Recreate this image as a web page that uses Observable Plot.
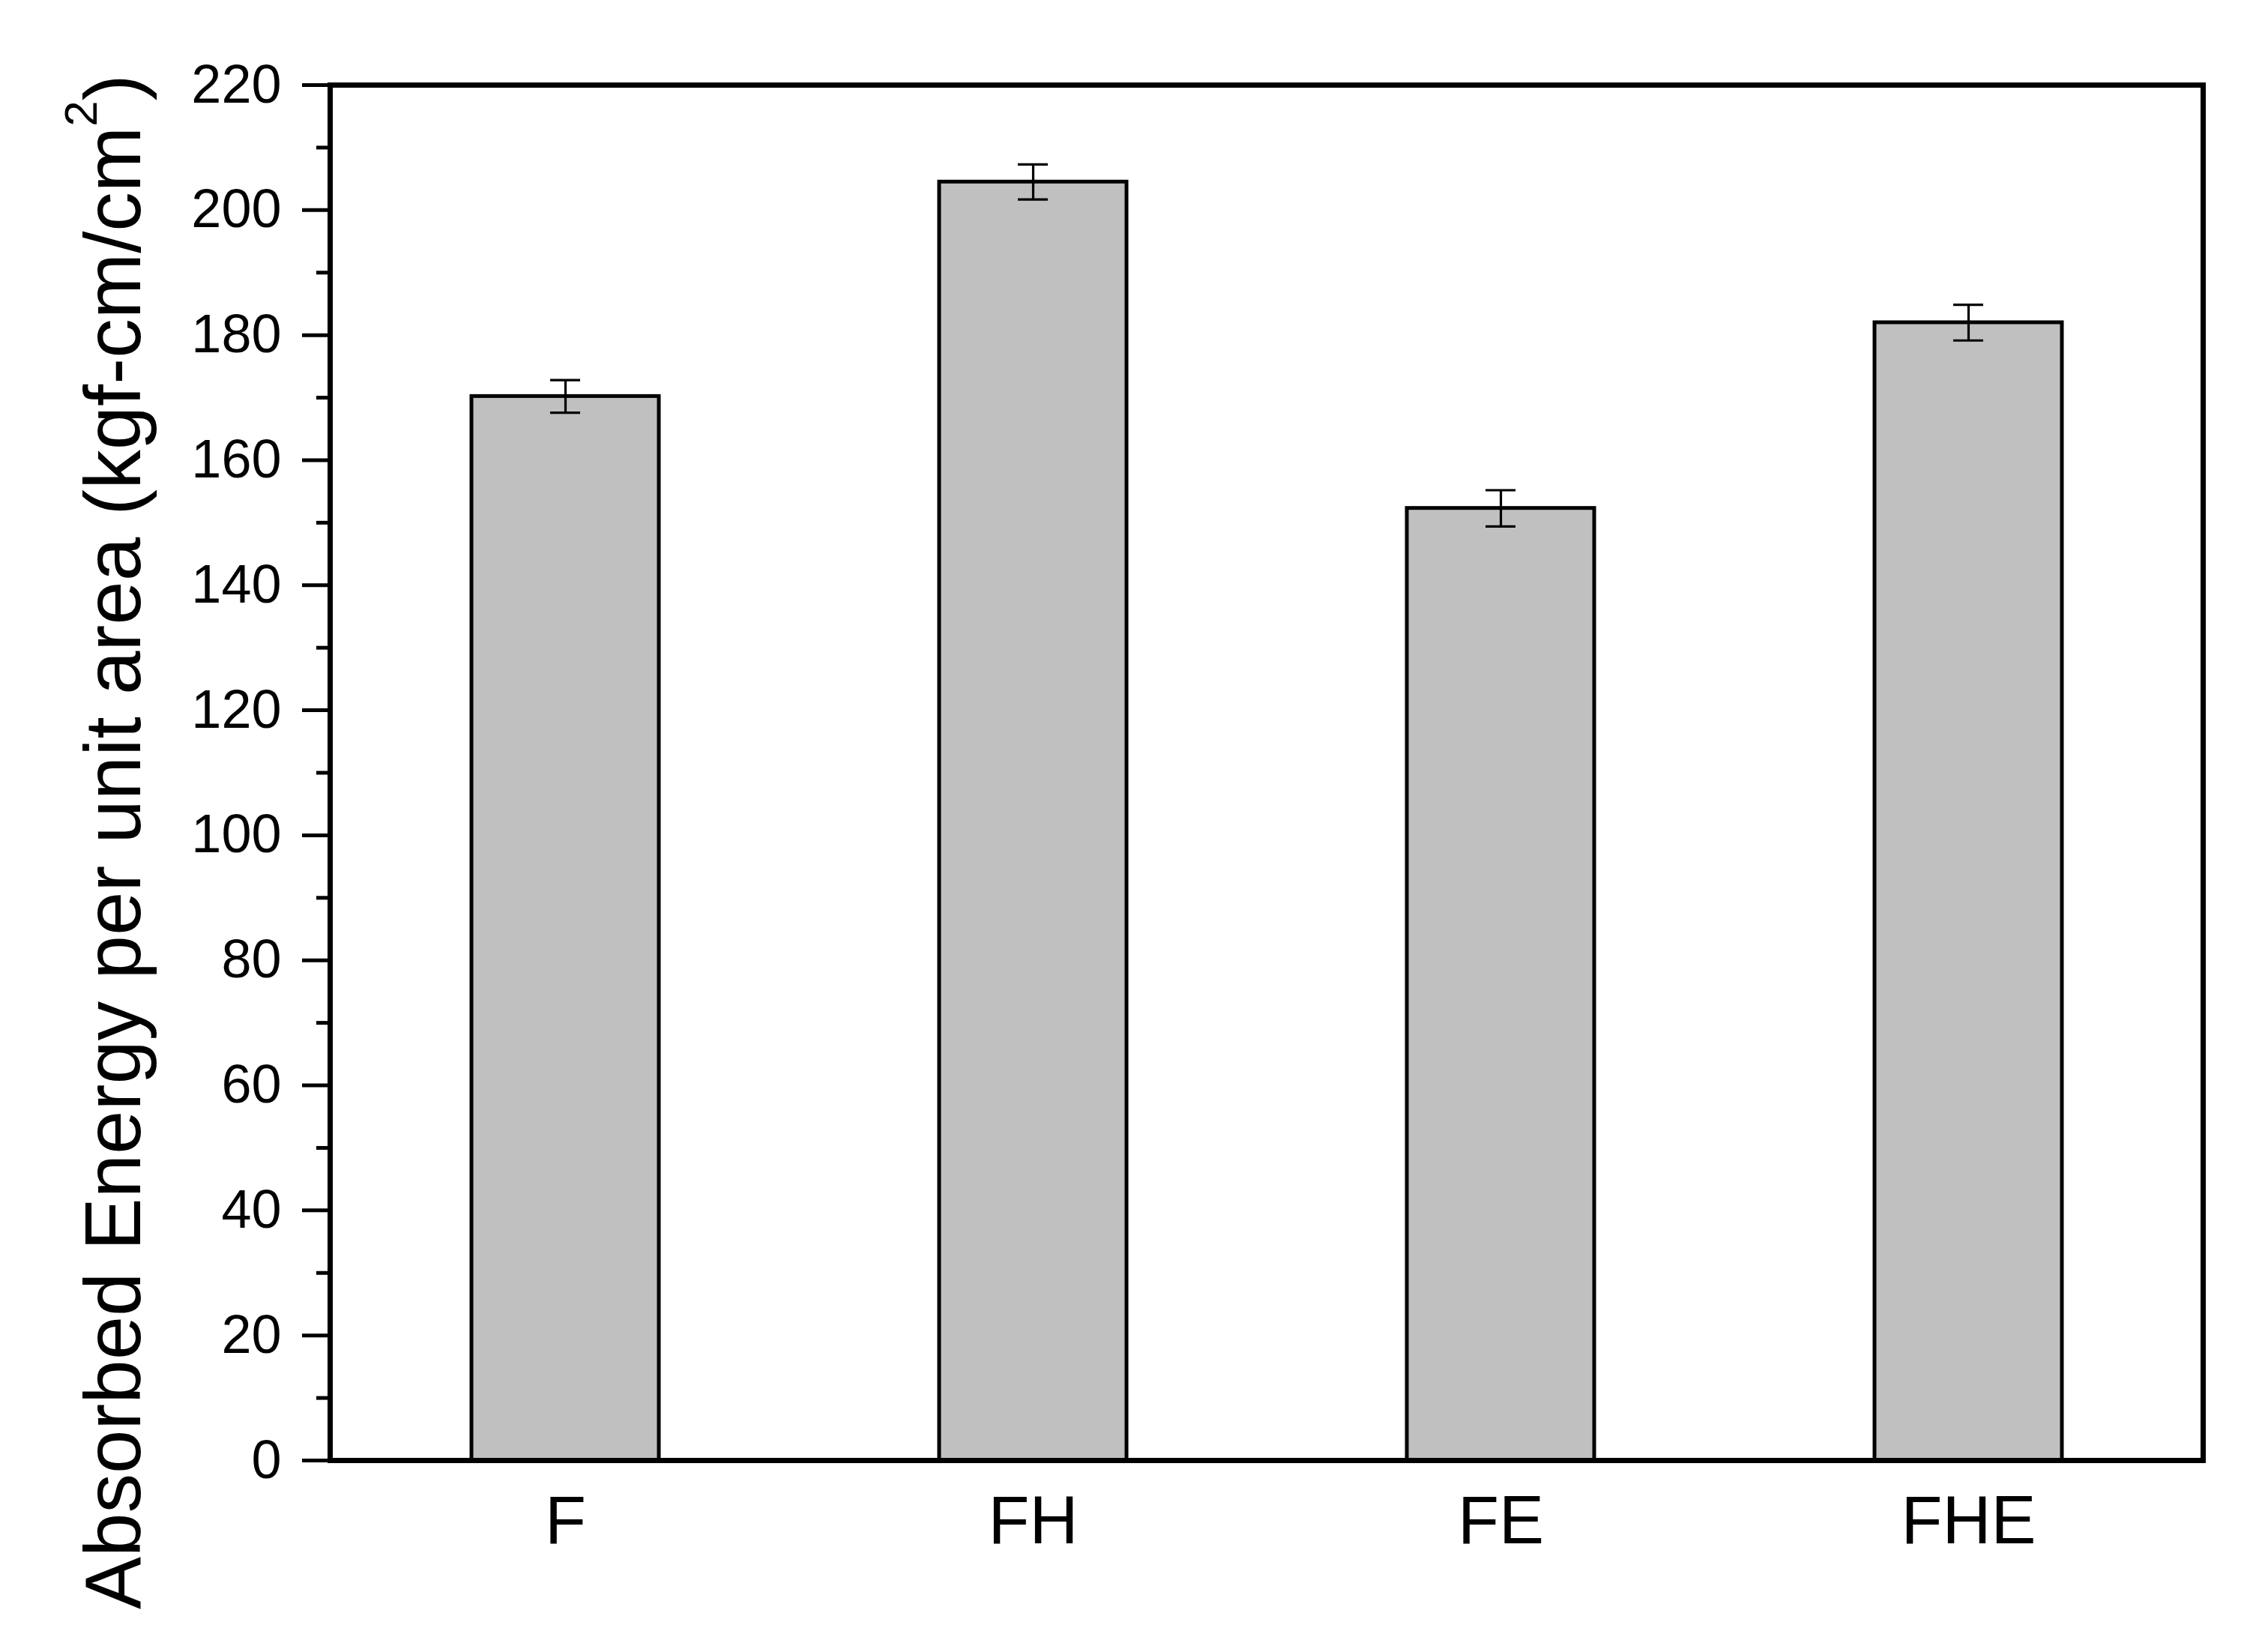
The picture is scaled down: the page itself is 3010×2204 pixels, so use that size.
<!DOCTYPE html>
<html>
<head>
<meta charset="utf-8">
<script src="https://cdn.jsdelivr.net/npm/d3@7"></script>
<script src="https://cdn.jsdelivr.net/npm/@observablehq/plot@0.6"></script>
<style>
  html, body { margin: 0; padding: 0; background: #fff; }
  #chart svg { display: block; }
</style>
</head>
<body>
<div id="chart"></div>
<script>
// Data
const categories = ["F", "FH", "FE", "FHE"];
const energy = [170.2, 204.5, 152.3, 182.0];
const errors = [2.6, 2.8, 2.9, 2.85];
const majorTicks = [0, 20, 40, 60, 80, 100, 120, 140, 160, 180, 200, 220];
const minorTicks = [10, 30, 50, 70, 90, 110, 130, 150, 170, 190, 210];
const yLabelMain = "Absorbed Energy per unit area (kgf-cm/cm";
const yLabelSup = "2";
const yLabelEnd = ")";

const data = categories.map((c, i) => ({
  cat: c, value: energy[i], lo: energy[i] - errors[i], hi: energy[i] + errors[i]
}));

const font = "'Liberation Sans', Arial, Helvetica, sans-serif";

const chart = Plot.plot({
  width: 3010,
  height: 2204,
  marginLeft: 440,
  marginRight: 71,
  marginTop: 113,
  marginBottom: 256,
  style: { fontFamily: font, background: "#fff", color: "#000" },
  x: { type: "band", domain: categories, paddingInner: 0.6, paddingOuter: 0.3 },
  y: { domain: [0, 220] },
  marks: [
    Plot.barY(data, { x: "cat", y: "value", fill: "#c0c0c0", stroke: "#000", strokeWidth: 5 }),
    Plot.ruleX(data, { x: "cat", y1: "lo", y2: "hi", stroke: "#000", strokeWidth: 3.2 }),
    Plot.tickY(data, { x: "cat", y: "lo", stroke: "#000", strokeWidth: 3.2, insetLeft: 105, insetRight: 105 }),
    Plot.tickY(data, { x: "cat", y: "hi", stroke: "#000", strokeWidth: 3.2, insetLeft: 105, insetRight: 105 }),
    Plot.axisY({ ticks: minorTicks, tickSize: 18, strokeWidth: 5, text: null, label: null }),
    Plot.axisY({ ticks: majorTicks, tickSize: 37, tickPadding: 28, strokeWidth: 5, fontSize: 72, label: null }),
    Plot.axisX({ tickSize: 0, tickPadding: 47, fontSize: 90, label: null }),
    Plot.frame({ stroke: "#000", strokeWidth: 7 })
  ]
});

document.getElementById("chart").appendChild(chart);

// Rotated y-axis label with superscript
const svg = d3.select(chart);
const lbl = svg.append("text")
  .attr("transform", "translate(187, 2147) rotate(-90)")
  .attr("text-anchor", "start")
  .attr("font-family", font)
  .attr("font-size", 105)
  .attr("fill", "#000");
lbl.append("tspan").text(yLabelMain);
lbl.append("tspan").attr("font-size", 62).attr("dy", -58).text(yLabelSup);
lbl.append("tspan").attr("dy", 58).text(yLabelEnd);
</script>
</body>
</html>
